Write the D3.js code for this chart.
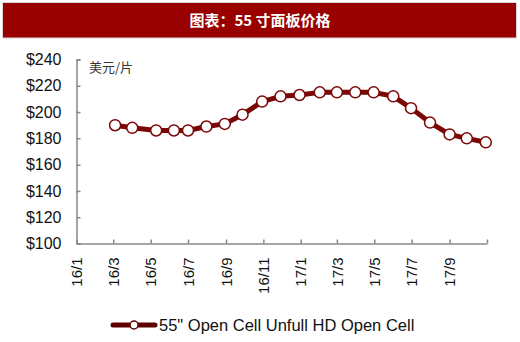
<!DOCTYPE html>
<html>
<head>
<meta charset="utf-8">
<script src="https://cdn.jsdelivr.net/npm/d3@7"></script>
<style>
  body { margin: 0; background: #fff; }
  svg { display: block; font-family: "Liberation Sans", Arial, sans-serif; }
</style>
</head>
<body>
<div id="chart"></div>
<script>
// data
const dates = ['2016-03-04', '2016-04-01', '2016-05-10', '2016-06-08', '2016-07-01',
  '2016-07-31', '2016-08-30', '2016-09-28', '2016-10-30', '2016-11-29', '2016-12-30',
  '2017-02-01', '2017-03-01', '2017-03-31', '2017-04-30', '2017-06-01', '2017-06-30',
  '2017-07-31', '2017-09-01', '2017-09-29', '2017-10-30'];
const prices = [190, 188, 186, 186, 186, 189, 191, 198, 208, 212, 213,
  215, 215, 215, 215, 212, 203, 192, 183, 180, 177];
const yTicks = [100, 120, 140, 160, 180, 200, 220, 240];
const xTicks = ['2016-01-01', '2016-03-01', '2016-05-01', '2016-07-01', '2016-09-01', '2016-11-01',
  '2017-01-01', '2017-03-01', '2017-05-01', '2017-07-01', '2017-09-01', '2017-11-01'];
const seriesName = '55" Open Cell Unfull HD Open Cell';
const title = '图表：55 寸面板价格';
const unit = '美元/片';

const width = 520, height = 342;
const margin = { left: 76.5, right: 33, top: 59.5, bottom: 98.5 };
const lineColor = '#7a0606';

const parse = d3.timeParse('%Y-%m-%d');
const data = dates.map((d, i) => ({ date: parse(d), value: prices[i] }));
const lastTick = parse(xTicks[xTicks.length - 1]);

const svg = d3.select('#chart')
  .append('svg')
  .attr('width', width)
  .attr('height', height);

// title bar
svg.append('rect')
  .attr('x', 2.5).attr('y', 2.5)
  .attr('width', 514).attr('height', 35.5)
  .attr('fill', '#990000')
  .attr('stroke', '#d8d8d8');
svg.append('text')
  .attr('x', 260).attr('y', 26)
  .attr('text-anchor', 'middle')
  .attr('fill', '#fff')
  .attr('font-size', 15)
  .attr('font-weight', 'bold')
  .attr('font-family', '"Noto Sans CJK SC", sans-serif')
  .text(title);

const x = d3.scaleTime()
  .domain([parse(xTicks[0]), lastTick])
  .range([margin.left, width - margin.right]);

const y = d3.scaleLinear()
  .domain([100, 240])
  .range([height - margin.bottom, margin.top]);

// y axis
const yAxis = svg.append('g')
  .attr('transform', 'translate(' + margin.left + ',0)')
  .call(d3.axisRight(y).tickValues(yTicks).tickSize(4).tickFormat(d => '$' + d));
yAxis.select('.domain').attr('stroke', '#888').attr('stroke-width', 1.5);
yAxis.selectAll('.tick line').attr('stroke', '#888').attr('stroke-width', 1.5);
yAxis.selectAll('.tick text')
  .attr('x', -15)
  .attr('text-anchor', 'end')
  .attr('font-size', 16)
  .attr('fill', '#111')
  .attr('font-family', '"Liberation Sans", Arial, sans-serif');

// x axis (the last tick has no label)
const xAxis = svg.append('g')
  .attr('transform', 'translate(0,' + (height - margin.bottom) + ')')
  .call(d3.axisTop(x).tickValues(xTicks.map(parse)).tickSize(4).tickSizeOuter(0)
    .tickFormat(d => +d === +lastTick ? '' : d3.timeFormat('%y/%-m')(d)));
xAxis.select('.domain').attr('stroke', '#888').attr('stroke-width', 1.5);
xAxis.selectAll('.tick line').attr('stroke', '#888').attr('stroke-width', 1.5);
xAxis.selectAll('.tick text')
  .attr('transform', 'rotate(-90)')
  .attr('x', -14)
  .attr('y', 0)
  .attr('dy', '0.35em')
  .attr('text-anchor', 'end')
  .attr('font-size', 15)
  .attr('fill', '#111')
  .attr('font-family', '"Liberation Sans", Arial, sans-serif');

// unit label
svg.append('text')
  .attr('x', 89).attr('y', 72)
  .attr('font-size', 13)
  .attr('fill', '#333')
  .attr('font-family', '"Noto Sans CJK SC", serif')
  .text(unit);

// series line
const line = d3.line()
  .x(d => x(d.date))
  .y(d => y(d.value));

svg.append('path')
  .datum(data)
  .attr('fill', 'none')
  .attr('stroke', lineColor)
  .attr('stroke-width', 5)
  .attr('stroke-linejoin', 'round')
  .attr('d', line);

svg.selectAll('circle.pt')
  .data(data)
  .enter()
  .append('circle')
    .attr('class', 'pt')
    .attr('cx', d => x(d.date))
    .attr('cy', d => y(d.value))
    .attr('r', 5.5)
    .attr('fill', '#fff')
    .attr('stroke', lineColor)
    .attr('stroke-width', 1.5);

// legend
const legend = svg.append('g').attr('transform', 'translate(0,325)');
legend.append('line')
  .attr('x1', 113).attr('x2', 155)
  .attr('y1', 0).attr('y2', 0)
  .attr('stroke', '#5e0000')
  .attr('stroke-width', 5)
  .attr('stroke-linecap', 'round');
legend.append('circle')
  .attr('cx', 134).attr('cy', 0).attr('r', 4)
  .attr('fill', '#fff')
  .attr('stroke', '#5e0000')
  .attr('stroke-width', 1.5);
legend.append('text')
  .attr('x', 159).attr('y', 0)
  .attr('dy', '0.35em')
  .attr('font-size', 16.5)
  .attr('fill', '#111')
  .text(seriesName);
</script>
</body>
</html>
